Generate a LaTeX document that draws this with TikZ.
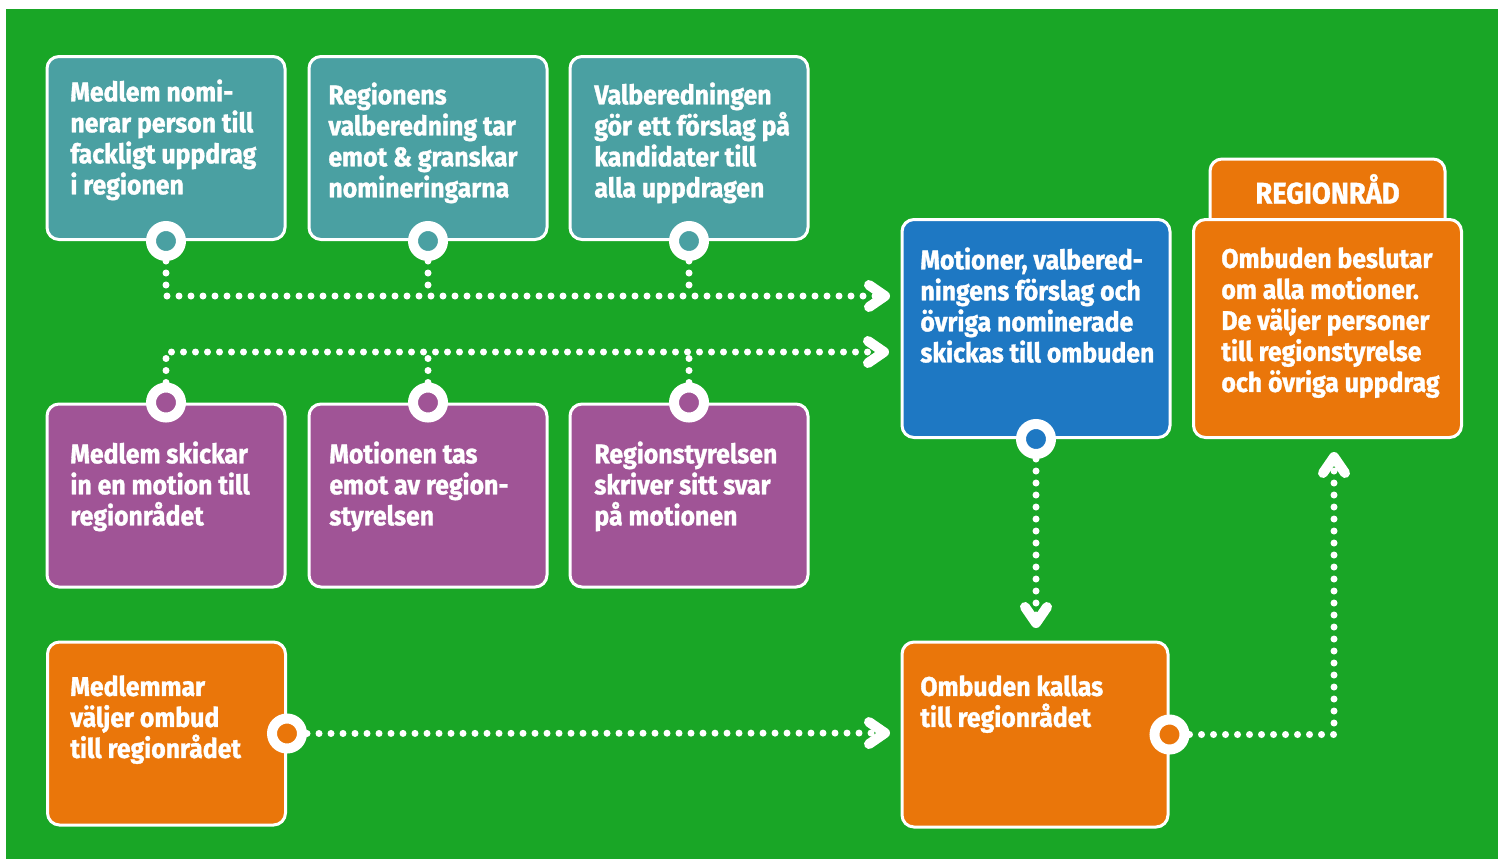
\documentclass[tikz,border=0pt]{standalone}
\usepackage{fontspec}
\newfontfamily\boxfont{Fira Sans}[FakeStretch=0.92, BoldFeatures={FakeBold=1.2}]
\usetikzlibrary{arrows.meta}

\definecolor{bggreen}{RGB}{25,166,38}
\definecolor{tealbox}{RGB}{74,160,162}
\definecolor{purplebox}{RGB}{160,84,150}
\definecolor{bluebox}{RGB}{30,120,195}
\definecolor{orangebox}{RGB}{234,118,10}

\tikzset{
  box/.style={draw=white, line width=1.5pt, rounded corners=6pt, inner sep=0pt},
  smallbox/.style={box, minimum width=119pt, minimum height=91.5pt},
  bigbox/.style={box, minimum width=134pt, minimum height=109pt},
  txt/.style={anchor=north west, inner sep=0pt, align=left, text=white,
    font={\boxfont\bfseries\fontsize{13.5pt}{15.5pt}\selectfont}},
  port/.style={circle, draw=white, line width=5pt, minimum size=15pt, inner sep=0pt},
  dots/.style={white, line width=3.5pt, line cap=round, dash pattern=on 0pt off 6pt},
  dotsarrow/.style={dots, -{Straight Barb[length=8pt, width=11pt, line width=5pt, round]}}
}

\begin{document}
\begin{tikzpicture}[x=0.5pt, y=-0.5pt]
    \useasboundingbox (0,0) rectangle (1502,859);
    \fill[white] (0,0) rectangle (1502,859);
    \fill[bggreen] (6,9) rectangle (1498,859);

    % nomination row
    \node[smallbox, fill=tealbox] (m1) at (166,148) {};
    \node[smallbox, fill=tealbox] (m2) at (428,148) {};
    \node[smallbox, fill=tealbox] (m3) at (689,148) {};
    \node[txt] (t1) at (70,79) {Medlem nomi-\\nerar person till\\fackligt uppdrag\\i regionen};
    \node[txt] (t2) at (328,82) {Regionens\\valberedning tar\\emot \& granskar\\nomineringarna};
    \node[txt] (t3) at (594,82) {Valberedningen\\gör ett förslag på\\kandidater till\\alla uppdragen};
    \node[port, fill=tealbox] (c1) at (m1.south) {};
    \node[port, fill=tealbox] (c2) at (m2.south) {};
    \node[port, fill=tealbox] (c3) at (m3.south) {};

    % motion row
    \node[smallbox, fill=purplebox] (p1) at (166,495.5) {};
    \node[smallbox, fill=purplebox] (p2) at (428,495.5) {};
    \node[smallbox, fill=purplebox] (p3) at (689,495.5) {};
    \node[txt] (t4) at (70,441) {Medlem skickar\\in en motion till\\regionrådet};
    \node[txt] (t5) at (329,441) {Motionen tas\\emot av region-\\styrelsen};
    \node[txt] (t6) at (594,441) {Regionstyrelsen\\skriver sitt svar\\på motionen};
    \node[port, fill=purplebox] (d1) at (p1.north) {};
    \node[port, fill=purplebox] (d2) at (p2.north) {};
    \node[port, fill=purplebox] (d3) at (p3.north) {};

    % ombud row
    \node[smallbox, fill=orangebox] (o1) at (166.5,733.5) {};
    \node[txt] (t7) at (70,675) {Medlemmar\\väljer ombud\\till regionrådet};
    \node[port, fill=orangebox] (e1) at (o1.east) {};

    % right column
    \node[bigbox, fill=bluebox] (mo) at (1036,328.5) {};
    \node[txt] (t8) at (920,247) {Motioner, valbered-\\ningens förslag och\\övriga nominerade\\skickas till ombuden};
    \node[port, fill=bluebox] (e2) at (mo.south) {};

    \node[box, fill=orangebox, minimum width=117.5pt, minimum height=50pt, anchor=north] (tab) at (1327.5,157.5) {};
    \node[bigbox, fill=orangebox] (rr) at (1327.5,328.5) {};
    \node[txt, anchor=center, scale=1.1] (t9) at (1327.5,189) {REGIONRÅD};
    \node[txt] (t10) at (1221,247) {Ombuden beslutar\\om alla motioner.\\De väljer personer\\till regionstyrelse\\och övriga uppdrag};

    \node[box, fill=orangebox, minimum width=133pt, minimum height=92.5pt] (ok) at (1035,734.5) {};
    \node[txt] (t11) at (920,675) {Ombuden kallas\\till regionrådet};
    \node[port, fill=orangebox] (e3) at (ok.east) {};

    % arrow ends
    \coordinate (in1) at (890,296);
    \coordinate (in2) at (889,352);
    \coordinate (in3) at (890,733);
    \coordinate (in4) at (1036,628);
    \coordinate (in5) at (1334,452);

    \draw[dotsarrow] (c1) |- (in1);
    \draw[dots] (c2) -- (c2 |- in1);
    \draw[dots] (c3) -- (c3 |- in1);
    \draw[dotsarrow] (d1) |- (in2);
    \draw[dots] (d2) -- (d2 |- in2);
    \draw[dots] (d3) -- (d3 |- in2);
    \draw[dotsarrow] (e1) -- (in3);
    \draw[dotsarrow] (e2) -- (in4);
    \draw[dotsarrow] (e3) -| (in5);
\end{tikzpicture}
\end{document}
